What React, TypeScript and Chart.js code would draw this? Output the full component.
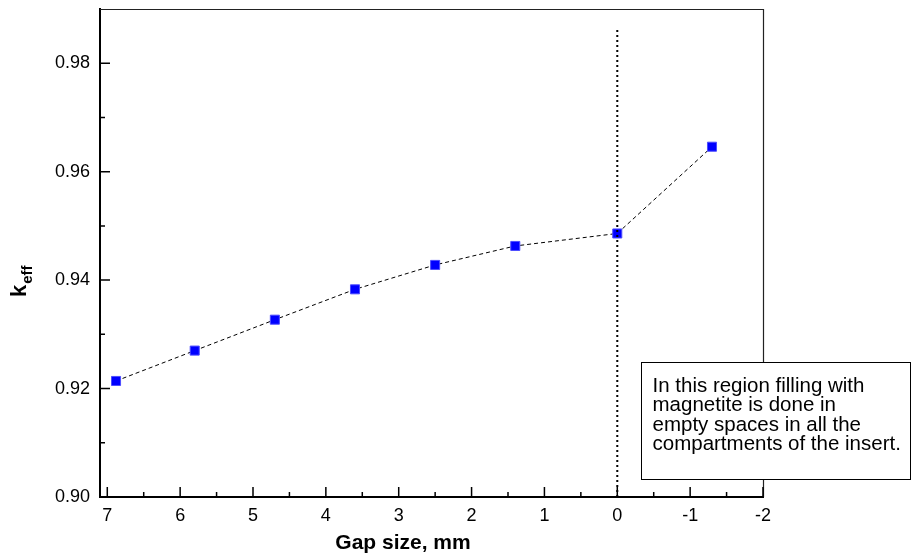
import React, { useEffect, useRef } from "react";
import { Chart, registerables } from "chart.js";

Chart.register(...registerables);

// Data
const GAP_MM = [6.88, 5.8, 4.7, 3.6, 2.5, 1.4, 0, -1.3];
const KEFF = [0.9214, 0.927, 0.9327, 0.9383, 0.9428, 0.9463, 0.9486, 0.9646];

const VLINE_X = [0, 0];
const VLINE_Y = [0.9, 0.9863];

const X_TICKS = [7, 6, 5, 4, 3, 2, 1, 0, -1, -2];
const X_MINOR = [6.5, 5.5, 4.5, 3.5, 2.5, 1.5, 0.5, -0.5, -1.5];
const Y_TICKS = [0.9, 0.92, 0.94, 0.96, 0.98];
const Y_MINOR = [0.91, 0.93, 0.95, 0.97];

const X_TITLE = "Gap size, mm";
const Y_TITLE_MAIN = "k";
const Y_TITLE_SUB = "eff";
const NOTE_LINES = [
  "In this region filling with",
  "magnetite is done in",
  "empty spaces in all the",
  "compartments of the insert.",
];

const FONT = '"Liberation Sans", Arial, Helvetica, sans-serif';

const decorPlugin = {
  id: "decor",
  afterDraw(chart: any) {
    const ctx = chart.ctx as CanvasRenderingContext2D;
    const xs = chart.scales.x;
    const ys = chart.scales.y;
    const { left, right, top, bottom } = chart.chartArea;

    ctx.save();
    // top & right frame
    ctx.strokeStyle = "#222";
    ctx.lineWidth = 1.2;
    ctx.beginPath();
    ctx.moveTo(left, top + 0.5);
    ctx.lineTo(right + 0.5, top + 0.5);
    ctx.lineTo(right + 0.5, bottom);
    ctx.stroke();

    // inward ticks
    ctx.strokeStyle = "#000";
    ctx.lineWidth = 1.5;
    ctx.beginPath();
    X_TICKS.forEach((v) => {
      const px = xs.getPixelForValue(v);
      ctx.moveTo(px, bottom);
      ctx.lineTo(px, bottom - 10);
    });
    X_MINOR.forEach((v) => {
      const px = xs.getPixelForValue(v);
      ctx.moveTo(px, bottom);
      ctx.lineTo(px, bottom - 5);
    });
    Y_TICKS.forEach((v) => {
      const py = ys.getPixelForValue(v);
      ctx.moveTo(left, py);
      ctx.lineTo(left + 10, py);
    });
    Y_MINOR.forEach((v) => {
      const py = ys.getPixelForValue(v);
      ctx.moveTo(left, py);
      ctx.lineTo(left + 5, py);
    });
    ctx.stroke();

    // x title
    ctx.fillStyle = "#000";
    ctx.font = `bold 21px ${FONT}`;
    ctx.textAlign = "center";
    ctx.textBaseline = "alphabetic";
    ctx.fillText(X_TITLE, 403, 549);

    // y title (rotated, with subscript)
    ctx.save();
    ctx.translate(26, 297);
    ctx.rotate(-Math.PI / 2);
    ctx.textAlign = "left";
    ctx.font = `bold 22px ${FONT}`;
    ctx.fillText(Y_TITLE_MAIN, 0, 0);
    const kw = ctx.measureText(Y_TITLE_MAIN).width;
    ctx.font = `bold 15px ${FONT}`;
    ctx.fillText(Y_TITLE_SUB, kw + 1, 6);
    ctx.restore();

    // note box
    ctx.fillStyle = "#fff";
    ctx.fillRect(641, 362, 270, 117);
    ctx.strokeStyle = "#000";
    ctx.lineWidth = 1;
    ctx.strokeRect(641.5, 362.5, 269, 117);
    ctx.fillStyle = "#000";
    ctx.font = `20.5px ${FONT}`;
    ctx.textAlign = "left";
    NOTE_LINES.forEach((line, i) => {
      ctx.fillText(line, 652.5, 391.5 + i * 19.5);
    });
    ctx.restore();
  },
};

export default function App() {
  const canvasRef = useRef<HTMLCanvasElement | null>(null);

  useEffect(() => {
    document.body.style.margin = "0";
    const canvas = canvasRef.current;
    if (!canvas) return;

    const zeroPad = (scale: any) => {
      scale.paddingTop = 0;
      scale.paddingBottom = 0;
      scale.paddingLeft = 0;
      scale.paddingRight = 0;
    };

    const chart = new Chart(canvas, {
      type: "scatter",
      data: {
        datasets: [
          {
            data: VLINE_X.map((x, i) => ({ x, y: VLINE_Y[i] })),
            showLine: true,
            borderColor: "#000",
            borderWidth: 2,
            borderDash: [2, 3],
            pointRadius: 0,
            fill: false,
          },
          {
            data: GAP_MM.map((x, i) => ({ x, y: KEFF[i] })),
            showLine: true,
            borderColor: "#000",
            borderWidth: 1,
            borderDash: [4, 3],
            pointStyle: "rect",
            pointRadius: 6.4,
            pointBackgroundColor: "#0000ff",
            pointBorderColor: "#4d4dff",
            pointBorderWidth: 1,
            fill: false,
          },
        ],
      },
      options: {
        responsive: false,
        animation: false,
        events: [],
        layout: { padding: { left: 0, right: 148, top: 9, bottom: 0 } },
        plugins: {
          legend: { display: false },
          tooltip: { enabled: false },
        },
        scales: {
          x: {
            type: "linear",
            reverse: true,
            min: -2,
            max: 7.1,
            afterBuildTicks: (scale: any) => {
              scale.ticks = X_TICKS.map((v) => ({ value: v }));
            },
            afterFit: (scale: any) => {
              scale.height = 60;
              zeroPad(scale);
            },
            grid: { display: false, drawTicks: false },
            border: { display: true, color: "#000", width: 2 },
            ticks: {
              color: "#000",
              font: { family: FONT, size: 18 },
              padding: 8,
              autoSkip: false,
              maxRotation: 0,
              callback: (v: any) => String(v),
            },
          },
          y: {
            type: "linear",
            min: 0.9,
            max: 0.99,
            afterBuildTicks: (scale: any) => {
              scale.ticks = Y_TICKS.map((v) => ({ value: v }));
            },
            afterFit: (scale: any) => {
              scale.width = 100;
              zeroPad(scale);
            },
            grid: { display: false, drawTicks: false },
            border: { display: true, color: "#000", width: 2 },
            ticks: {
              color: "#000",
              font: { family: FONT, size: 18 },
              padding: 10,
              autoSkip: false,
              callback: (v: any) => Number(v).toFixed(2),
            },
          },
        },
      },
      plugins: [decorPlugin],
    });

    return () => chart.destroy();
  }, []);

  return (
    <div style={{ position: "absolute", left: 0, top: 0, width: 911, height: 557, background: "#fff" }}>
      <canvas ref={canvasRef} width={911} height={557} style={{ width: 911, height: 557, display: "block" }} />
    </div>
  );
}
